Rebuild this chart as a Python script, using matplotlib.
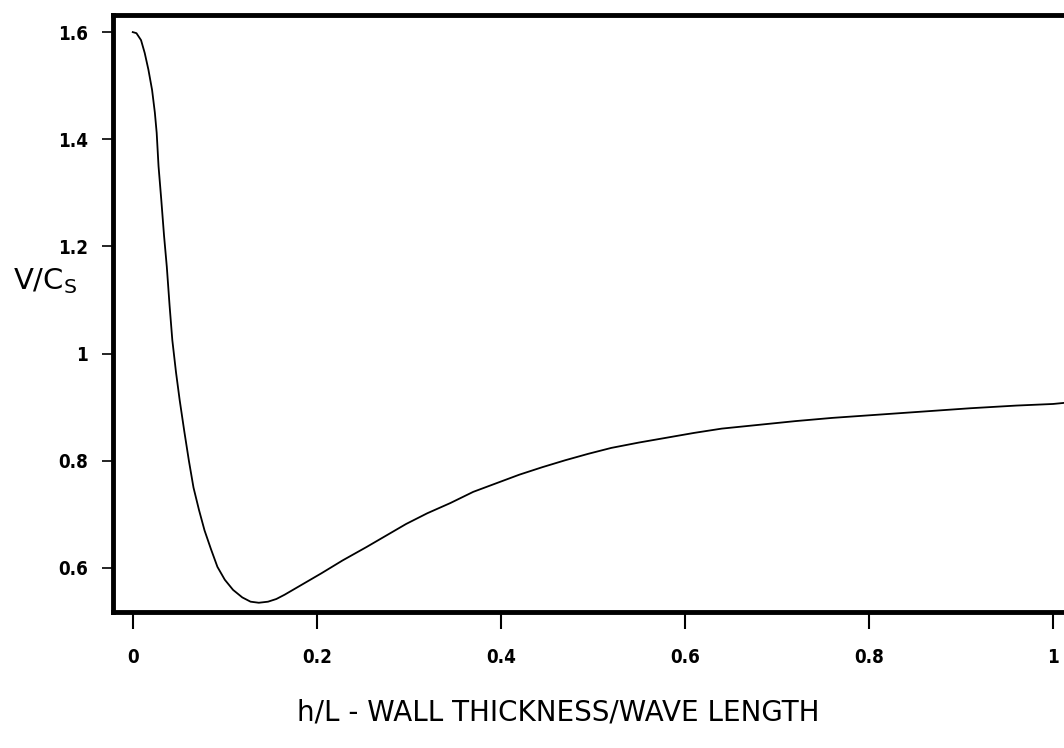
import numpy as np
import matplotlib.pyplot as plt

# values
h_over_l = [0.000, 0.004, 0.009, 0.013, 0.017, 0.021, 0.024, 0.026, 0.028,
            0.031, 0.034, 0.037, 0.040, 0.043, 0.047, 0.051, 0.056, 0.061,
            0.066, 0.072, 0.078, 0.085, 0.092, 0.100, 0.109, 0.119, 0.128,
            0.137, 0.147, 0.156, 0.165, 0.183, 0.205, 0.228, 0.254, 0.275,
            0.297, 0.320, 0.345, 0.370, 0.395, 0.420, 0.445, 0.470, 0.495,
            0.520, 0.550, 0.580, 0.610, 0.640, 0.680, 0.720, 0.760, 0.810,
            0.860, 0.910, 0.960, 1.000, 1.012]
v_over_cs = [1.600, 1.598, 1.585, 1.561, 1.530, 1.492, 1.450, 1.412, 1.350,
             1.287, 1.220, 1.162, 1.090, 1.025, 0.965, 0.913, 0.855, 0.800,
             0.750, 0.708, 0.670, 0.635, 0.602, 0.578, 0.559, 0.545, 0.537,
             0.535, 0.537, 0.542, 0.550, 0.568, 0.590, 0.614, 0.639, 0.660,
             0.682, 0.702, 0.721, 0.742, 0.758, 0.774, 0.788, 0.801, 0.813,
             0.824, 0.834, 0.843, 0.852, 0.860, 0.867, 0.874, 0.880, 0.886,
             0.892, 0.898, 0.903, 0.906, 0.908]

x_ticks = [0, 0.2, 0.4, 0.6, 0.8, 1]
x_labels = ['0', '0.2', '0.4', '0.6', '0.8', '1']
y_ticks = [0.6, 0.8, 1.0, 1.2, 1.4, 1.6]
y_labels = ['0.6', '0.8', '1', '1.2', '1.4', '1.6']

fig = plt.figure(figsize=(10.64, 7.48), dpi=100)
ax = fig.add_axes([0.106, 0.182, 0.914, 0.798])

ax.plot(h_over_l, v_over_cs, color='black', lw=1.3)

ax.set_xlim(-0.0217, 1.035)
ax.set_ylim(0.518, 1.632)

ax.set_xticks(x_ticks)
ax.set_xticklabels(x_labels, fontsize=13.5, fontweight='bold', fontstretch='condensed')
ax.set_yticks(y_ticks)
ax.set_yticklabels(y_labels, fontsize=13.5, fontweight='bold', fontstretch='condensed')

ax.tick_params(axis='x', direction='out', length=12, width=1.5, pad=14)
ax.tick_params(axis='y', direction='out', length=8, width=1.2, pad=10)

for side in ['left', 'top', 'bottom', 'right']:
    ax.spines[side].set_linewidth(3.5)

fig.text(0.525, 0.048, 'h/L - WALL THICKNESS/WAVE LENGTH', ha='center', va='center',
         fontsize=20, family='DejaVu Sans')
fig.text(0.012, 0.624, r'V/C$_\mathregular{S}$', ha='left', va='center',
         fontsize=21, family='DejaVu Sans')

fig.savefig('out.png', dpi=100)
